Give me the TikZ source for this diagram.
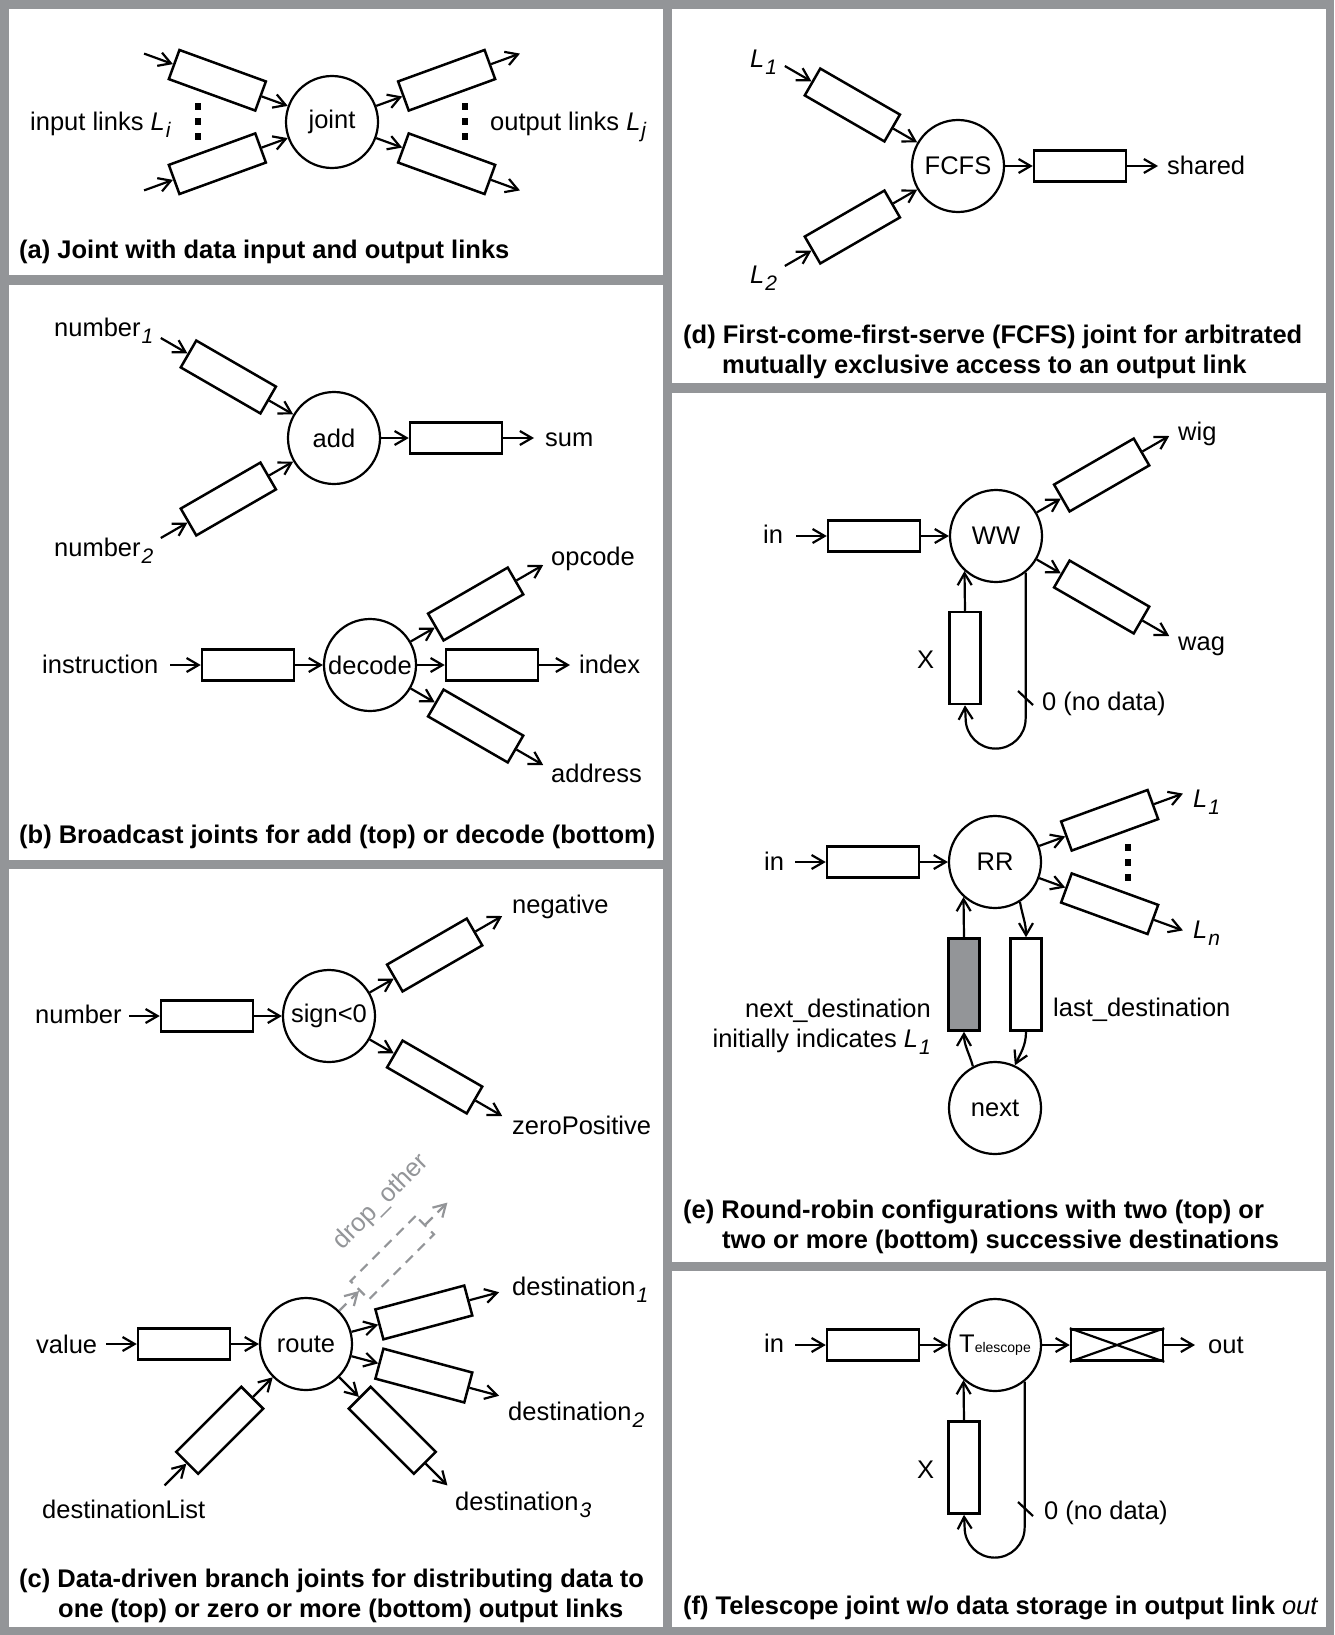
\documentclass[tikz,border=0pt]{standalone}
\usepackage{fontspec}
\setmainfont{Liberation Sans}
\usetikzlibrary{arrows.meta}

\definecolor{framegray}{RGB}{147,149,152}
% italic lowered index, as the figure sets it
\newcommand{\lsub}[1]{\kern1pt\raisebox{-7pt}{\fontsize{21}{21}\selectfont\itshape #1}}

\begin{document}
\begin{tikzpicture}[x=1pt, y=1pt,
    font=\fontsize{25.5}{30}\selectfont,
    >={Straight Barb[length=12pt,width=14pt,line width=2.2pt]},
    joint/.style={circle, draw, line width=2.2pt, minimum size=92pt, inner sep=0pt},
    buf/.style={rectangle, draw, line width=2.5pt, minimum width=92pt, minimum height=31pt, inner sep=0pt},
    vbuf/.style={buf, minimum width=31pt, minimum height=92pt},
    link/.style={->, line width=2.2pt},
    dropped/.style={draw=framegray, dash pattern=on 10pt off 7pt},
    lbl/.style={anchor=base west, inner sep=0pt},
    capt/.style={anchor=base west, inner sep=0pt, align=left,
      font=\fontsize{25.5}{29.5}\selectfont\bfseries}]
  \useasboundingbox (0,0) rectangle (1334,-1635);

  % frame and panels
  \fill[framegray] (0,0) rectangle (1334,-1635);
  \fill[white] (9,-9) rectangle (663,-275);
  \fill[white] (9,-285) rectangle (663,-860);
  \fill[white] (9,-869) rectangle (663,-1627);
  \fill[white] (672,-9) rectangle (1326,-383);
  \fill[white] (672,-393) rectangle (1326,-1262);
  \fill[white] (672,-1271) rectangle (1326,-1627);

  % (a) joint with links
  \node[joint] (joint) at (332,-122) {joint};
  \node[buf, rotate=-20] (ain1) at ([shift={(160:122)}]joint) {};
  \node[buf, rotate=20] (ain2) at ([shift={(200:122)}]joint) {};
  \node[buf, rotate=20] (aout1) at ([shift={(20:122)}]joint) {};
  \node[buf, rotate=-20] (aout2) at ([shift={(-20:122)}]joint) {};
  \coordinate (ain1s) at ([shift={(160:200)}]joint);
  \coordinate (ain2s) at ([shift={(200:200)}]joint);
  \coordinate (aout1e) at ([shift={(20:200)}]joint);
  \coordinate (aout2e) at ([shift={(-20:200)}]joint);
  \draw[link] (ain1s) -- (ain1.west);
  \draw[link] (ain2s) -- (ain2.west);
  \draw[link] (ain1.east) -- (joint);
  \draw[link] (ain2.east) -- (joint);
  \draw[link] (joint) -- (aout1.west);
  \draw[link] (joint) -- (aout2.west);
  \draw[link] (aout1.east) -- (aout1e);
  \draw[link] (aout2.east) -- (aout2e);
  \foreach \y in {-107,-122,-137} {
    \fill (195,\y-3.5) rectangle +(6,7);
    \fill (462,\y-3.5) rectangle +(6,7);
  }
  \node[lbl] (inlinks) at (30,-131) {input links \textit{L}\lsub{i}};
  \node[lbl] (outlinks) at (490,-131) {output links \textit{L}\lsub{j}};
  \node[capt] (capa) at (19,-258) {(a) Joint with data input and output links};

  % (b) add
  \node[joint] (add) at (334,-438) {add};
  \node[buf, rotate=-30] (bin1) at ([shift={(150:122)}]add) {};
  \node[buf, rotate=30] (bin2) at ([shift={(210:122)}]add) {};
  \node[buf] (bout) at ([shift={(0:122)}]add) {};
  \coordinate (bin1s) at ([shift={(150:200)}]add);
  \coordinate (bin2s) at ([shift={(210:200)}]add);
  \coordinate (boute) at ([shift={(0:200)}]add);
  \draw[link] (bin1s) -- (bin1.west);
  \draw[link] (bin2s) -- (bin2.west);
  \draw[link] (bin1.east) -- (add);
  \draw[link] (bin2.east) -- (add);
  \draw[link] (add) -- (bout.west);
  \draw[link] (bout.east) -- (boute);
  \node[lbl] (num1) at (54,-336) {number\lsub{1}};
  \node[lbl] (num2) at (54,-556) {number\lsub{2}};
  \node[lbl] (sum) at (545,-446) {sum};

  % (b) decode
  \node[joint] (decode) at (370,-665) {decode};
  \node[buf] (din) at ([shift={(180:122)}]decode) {};
  \node[buf, rotate=30] (dout1) at ([shift={(30:122)}]decode) {};
  \node[buf] (dout2) at ([shift={(0:122)}]decode) {};
  \node[buf, rotate=-30] (dout3) at ([shift={(-30:122)}]decode) {};
  \coordinate (dins) at ([shift={(180:200)}]decode);
  \coordinate (dout1e) at ([shift={(30:200)}]decode);
  \coordinate (dout2e) at ([shift={(0:200)}]decode);
  \coordinate (dout3e) at ([shift={(-30:200)}]decode);
  \draw[link] (dins) -- (din.west);
  \draw[link] (din.east) -- (decode);
  \draw[link] (decode) -- (dout1.west);
  \draw[link] (decode) -- (dout2.west);
  \draw[link] (decode) -- (dout3.west);
  \draw[link] (dout1.east) -- (dout1e);
  \draw[link] (dout2.east) -- (dout2e);
  \draw[link] (dout3.east) -- (dout3e);
  \node[lbl] (instr) at (42,-673) {instruction};
  \node[lbl] (opcode) at (551,-565) {opcode};
  \node[lbl] (index) at (579,-673) {index};
  \node[lbl] (address) at (551,-782) {address};
  \node[capt] (capb) at (19,-843) {(b) Broadcast joints for add (top) or decode (bottom)};

  % (c) sign
  \node[joint] (sign) at (329,-1016) {sign\textless0};
  \node[buf] (sgin) at ([shift={(180:122)}]sign) {};
  \node[buf, rotate=30] (sgout1) at ([shift={(30:122)}]sign) {};
  \node[buf, rotate=-30] (sgout2) at ([shift={(-30:122)}]sign) {};
  \coordinate (sgins) at ([shift={(180:200)}]sign);
  \coordinate (sgout1e) at ([shift={(30:200)}]sign);
  \coordinate (sgout2e) at ([shift={(-30:200)}]sign);
  \draw[link] (sgins) -- (sgin.west);
  \draw[link] (sgin.east) -- (sign);
  \draw[link] (sign) -- (sgout1.west);
  \draw[link] (sign) -- (sgout2.west);
  \draw[link] (sgout1.east) -- (sgout1e);
  \draw[link] (sgout2.east) -- (sgout2e);
  \node[lbl] (number) at (35,-1023) {number};
  \node[lbl] (negative) at (512,-913) {negative};
  \node[lbl] (zeropos) at (512,-1134) {zeroPositive};

  % (c) route
  \node[joint] (route) at (306,-1344) {route};
  \node[buf] (rin) at ([shift={(180:122)}]route) {};
  \node[buf, rotate=45] (rlist) at ([shift={(225:122)}]route) {};
  \node[buf, rotate=15] (rout1) at ([shift={(15:122)}]route) {};
  \node[buf, rotate=-15] (rout2) at ([shift={(-15:122)}]route) {};
  \node[buf, rotate=-45] (rout3) at ([shift={(-45:122)}]route) {};
  \node[buf, dropped, line width=2.2pt, minimum height=26pt, rotate=45] (rdrop) at ([shift={(45:122)}]route) {};
  \coordinate (rins) at ([shift={(180:200)}]route);
  \coordinate (rlists) at ([shift={(225:200)}]route);
  \coordinate (rout1e) at ([shift={(15:200)}]route);
  \coordinate (rout2e) at ([shift={(-15:200)}]route);
  \coordinate (rout3e) at ([shift={(-45:200)}]route);
  \coordinate (rdrope) at ([shift={(45:200)}]route);
  \draw[link] (rins) -- (rin.west);
  \draw[link] (rin.east) -- (route);
  \draw[link] (rlists) -- (rlist.west);
  \draw[link] (rlist.east) -- (route);
  \draw[link] (route) -- (rout1.west);
  \draw[link] (route) -- (rout2.west);
  \draw[link] (route) -- (rout3.west);
  \draw[link] (rout1.east) -- (rout1e);
  \draw[link] (rout2.east) -- (rout2e);
  \draw[link] (rout3.east) -- (rout3e);
  \draw[link, dropped] (route) -- (rdrop.west);
  \draw[link, dropped] (rdrop.east) -- (rdrope);
  \node[rotate=45, text=framegray, inner sep=0pt] (droplbl) at (381,-1202) {drop\_other};
  \node[lbl] (value) at (36,-1353) {value};
  \node[lbl] (dlist) at (42,-1518) {destinationList};
  \node[lbl] (dest1) at (512,-1295) {destination\lsub{1}};
  \node[lbl] (dest2) at (508,-1420) {destination\lsub{2}};
  \node[lbl] (dest3) at (455,-1510) {destination\lsub{3}};
  \node[capt] (capc) at (19,-1617) {(c) Data-driven branch joints for distributing data to\\
    \hspace*{39pt}one (top) or zero or more (bottom) output links};

  % (d) FCFS
  \node[joint] (fcfs) at (958,-166) {FCFS};
  \node[buf, rotate=-30] (fin1) at ([shift={(150:122)}]fcfs) {};
  \node[buf, rotate=30] (fin2) at ([shift={(210:122)}]fcfs) {};
  \node[buf] (fout) at ([shift={(0:122)}]fcfs) {};
  \coordinate (fin1s) at ([shift={(150:200)}]fcfs);
  \coordinate (fin2s) at ([shift={(210:200)}]fcfs);
  \coordinate (foute) at ([shift={(0:200)}]fcfs);
  \draw[link] (fin1s) -- (fin1.west);
  \draw[link] (fin2s) -- (fin2.west);
  \draw[link] (fin1.east) -- (fcfs);
  \draw[link] (fin2.east) -- (fcfs);
  \draw[link] (fcfs) -- (fout.west);
  \draw[link] (fout.east) -- (foute);
  \node[lbl] (fl1) at (750,-68) {\textit{L}\lsub{1}};
  \node[lbl] (fl2) at (750,-283) {\textit{L}\lsub{2}};
  \node[lbl] (shared) at (1167,-174) {shared};
  \node[capt] (capd) at (683,-373) {(d) First-come-first-serve (FCFS) joint for arbitrated\\
    \hspace*{39pt}mutually exclusive access to an output link};

  % (e) WW
  \node[joint] (ww) at (996,-536) {WW};
  \node[buf] (win) at ([shift={(180:122)}]ww) {};
  \node[buf, rotate=30] (wout1) at ([shift={(30:122)}]ww) {};
  \node[buf, rotate=-30] (wout2) at ([shift={(-30:122)}]ww) {};
  \node[vbuf] (wx) at ([shift={(-31,-122)}]ww) {};
  \coordinate (wins) at ([shift={(180:200)}]ww);
  \coordinate (wout1e) at ([shift={(30:200)}]ww);
  \coordinate (wout2e) at ([shift={(-30:200)}]ww);
  \draw[link] (wins) -- (win.west);
  \draw[link] (win.east) -- (ww);
  \draw[link] (ww) -- (wout1.west);
  \draw[link] (ww) -- (wout2.west);
  \draw[link] (wout1.east) -- (wout1e);
  \draw[link] (wout2.east) -- (wout2e);
  \draw[link] (wx.north) -- (ww.228);
  \draw[link] (ww.-51) -- ++(0,-146) arc[start angle=0, end angle=-180, radius=30] -- (wx.south);
  \draw[line width=2.2pt] (1018,-691) -- (1033,-705);
  \node[lbl] (win lbl) at (763,-543) {in};
  \node[lbl] (wig) at (1178,-440) {wig};
  \node[lbl] (wag) at (1178,-650) {wag};
  \node (wxlbl) at (925.5,-660) {X};
  \node[lbl] (wnodata) at (1042,-710) {0 (no data)};

  % (e) RR
  \node[joint] (rr) at (995,-862) {RR};
  \node[buf] (rrin) at ([shift={(180:122)}]rr) {};
  \node[buf, rotate=20] (rrout1) at ([shift={(20:122)}]rr) {};
  \node[buf, rotate=-20] (rroutn) at ([shift={(-20:122)}]rr) {};
  \node[vbuf, fill=framegray] (nextd) at ([shift={(-31,-122.5)}]rr) {};
  \node[vbuf] (lastd) at ([shift={(31,-122.5)}]rr) {};
  \node[joint] (nxt) at (995,-1108) {next};
  \coordinate (rrins) at ([shift={(180:200)}]rr);
  \coordinate (rrout1e) at ([shift={(20:200)}]rr);
  \coordinate (rroutne) at ([shift={(-20:200)}]rr);
  \draw[link] (rrins) -- (rrin.west);
  \draw[link] (rrin.east) -- (rr);
  \draw[link] (rr) -- (rrout1.west);
  \draw[link] (rr) -- (rroutn.west);
  \draw[link] (rrout1.east) -- (rrout1e);
  \draw[link] (rroutn.east) -- (rroutne);
  \draw[link] (nextd.north) -- (rr.228);
  \draw[link] (rr.-58) to[out=-80, in=90] (lastd.north);
  \draw[link] (lastd.south) to[out=-90, in=65] (nxt.65);
  \draw[link] (nxt.118) to[out=105, in=-90] (nextd.south);
  \foreach \y in {-847,-862,-877}
    \fill (1125,\y-3.5) rectangle +(6,7);
  \node[lbl] (rrin lbl) at (764,-870) {in};
  \node[lbl] (rl1) at (1193,-807) {\textit{L}\lsub{1}};
  \node[lbl] (rln) at (1193,-938) {\textit{L}\lsub{n}};
  \node[lbl, anchor=base east, align=right] (nextdlbl) at (931,-1047)
    {next\_destination\\initially indicates \textit{L}\lsub{1}};
  \node[lbl] (lastdlbl) at (1053,-1016) {last\_destination};
  \node[capt] (cape) at (683,-1248) {(e) Round-robin configurations with two (top) or\\
    \hspace*{39pt}two or more (bottom) successive destinations};

  % (f) telescope
  \node[joint] (tel) at (995,-1345) {T{\fontsize{14}{14}\selectfont elescope}};
  \node[buf] (tin) at ([shift={(180:122)}]tel) {};
  \node[buf] (tout) at ([shift={(0:122)}]tel) {};
  \node[vbuf] (tx) at ([shift={(-31,-122.5)}]tel) {};
  \coordinate (tins) at ([shift={(180:200)}]tel);
  \coordinate (toute) at ([shift={(0:200)}]tel);
  \draw[line width=2.2pt] (tout.north west) -- (tout.south east) (tout.south west) -- (tout.north east);
  \draw[link] (tins) -- (tin.west);
  \draw[link] (tin.east) -- (tel);
  \draw[link] (tel) -- (tout.west);
  \draw[link] (tout.east) -- (toute);
  \draw[link] (tx.north) -- (tel.228);
  \draw[link] (tel.-51) -- ++(0,-146) arc[start angle=0, end angle=-180, radius=30] -- (tx.south);
  \draw[line width=2.2pt] (1018,-1502) -- (1033,-1516);
  \node[lbl] (tin lbl) at (764,-1352) {in};
  \node[lbl] (tout lbl) at (1208,-1353) {out};
  \node (txlbl) at (925.5,-1470) {X};
  \node[lbl] (tnodata) at (1044,-1519) {0 (no data)};
  \node[capt] (capf) at (683,-1614) {(f) Telescope joint w/o data storage in output link {\mdseries\itshape out}};
\end{tikzpicture}
\end{document}
